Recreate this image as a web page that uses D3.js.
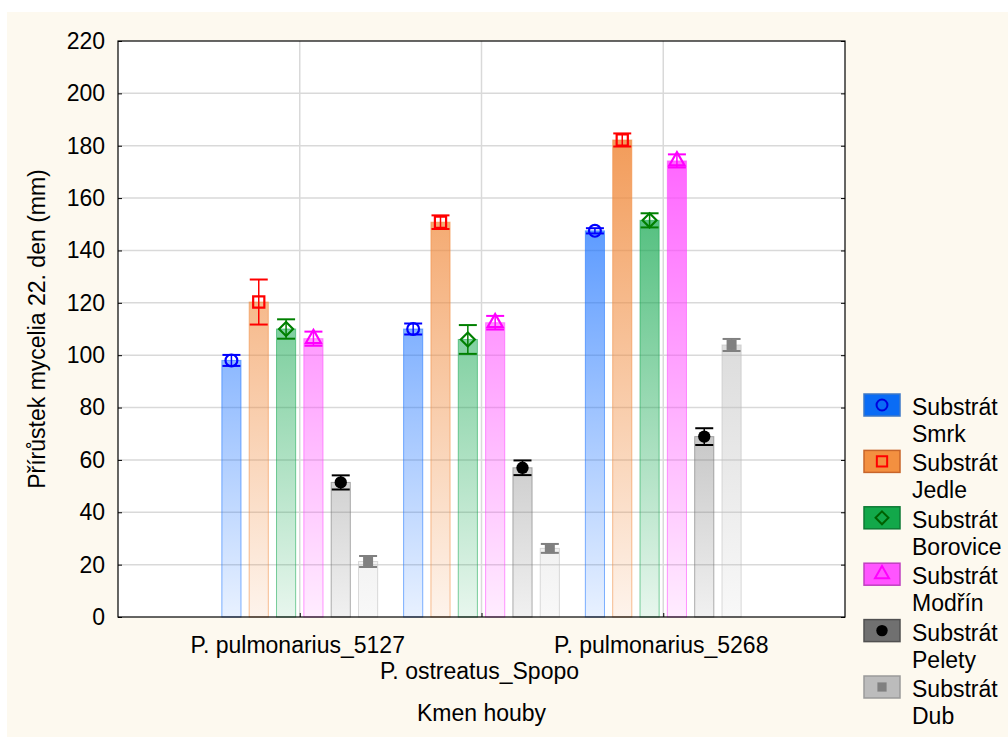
<!DOCTYPE html>
<html>
<head>
<meta charset="utf-8">
<script src="https://cdn.jsdelivr.net/npm/d3@7"></script>
<style>
  body { margin: 0; background: #fff; }
  svg text { font-family: "Liberation Sans", Arial, sans-serif; fill: #000; }
</style>
</head>
<body>
<div class="chart"></div>
<script>
// categories (x axis) and series (substrates)
var categories = ["P. pulmonarius_5127", "P. ostreatus_Spopo", "P. pulmonarius_5268"];
var series = ["Smrk", "Jedle", "Borovice", "Modřín", "Pelety", "Dub"];

// means per series, one value per category
var smrk     = [98, 110, 147.5];
var jedle    = [120.3, 150.8, 182.2];
var borovice = [110, 106, 151.5];
var modrin   = [106.3, 112.4, 174.2];
var pelety   = [51.4, 57, 68.9];
var dub      = [21.2, 26.2, 103.9];

// error bar half widths
var smrkErr     = [2.1, 2.1, 1.0];
var jedleErr    = [8.6, 2.6, 2.5];
var boroviceErr = [3.7, 5.5, 2.7];
var modrinErr   = [2.7, 2.6, 2.5];
var peletyErr   = [2.7, 2.8, 3.2];
var dubErr      = [2.1, 1.7, 2.3];

var yTicks = [0, 20, 40, 60, 80, 100, 120, 140, 160, 180, 200, 220];

var means = [smrk, jedle, borovice, modrin, pelety, dub];
var errs = [smrkErr, jedleErr, boroviceErr, modrinErr, peletyErr, dubErr];

// styles per series
var barColor    = ["#1a72ff", "#f08a3c", "#14a850", "#ff44ff", "#6e6e6e", "#bdbdbd"];
var swatchFill  = ["#0a6cf5", "#f39040", "#12a84a", "#ff55ff", "#707070", "#bcbcbc"];
var swatchLine  = ["#3c78c8", "#c8652a", "#0d7a35", "#c040c0", "#505050", "#9a9a9a"];
var markColor   = ["#0000ff", "#ff0000", "#008000", "#ff00ff", "#000000", "#808080"];

var fontSize = "23px";
var svgWidth = 1008, svgHeight = 737;
var margin = { top: 41, right: 163, bottom: 120, left: 118 };
var chartWidth = svgWidth - margin.left - margin.right;
var chartHeight = svgHeight - margin.top - margin.bottom;

var svg = d3.select(".chart").append("svg")
  .attr("width", svgWidth)
  .attr("height", svgHeight);

// cream background panel
svg.append("rect")
  .attr("x", 7).attr("y", 12)
  .attr("width", svgWidth - 7).attr("height", svgHeight - 12)
  .attr("fill", "#fdf9ef");

var chartGroup = svg.append("g")
  .attr("transform", `translate(${margin.left}, ${margin.top})`);

chartGroup.append("rect")
  .attr("width", chartWidth).attr("height", chartHeight)
  .attr("fill", "#fff");

// scales
var xScale = d3.scaleLinear().domain([0, 4]).range([0, chartWidth]);
var yScale = d3.scaleLinear().domain([0, 220]).range([chartHeight, 0]);
var inner = d3.scaleBand().domain(series).range([-82, 82])
  .paddingInner(0.3).paddingOuter(0.15);

// gradients (saturated at top of the plot, pale at bottom)
var defs = svg.append("defs");
series.forEach(function (s, i) {
  var g = defs.append("linearGradient")
    .attr("id", "grad" + i)
    .attr("gradientUnits", "userSpaceOnUse")
    .attr("x1", 0).attr("x2", 0)
    .attr("y1", yScale(0)).attr("y2", yScale(220));
  g.append("stop").attr("offset", "0%").attr("stop-color", barColor[i]).attr("stop-opacity", 0.1);
  g.append("stop").attr("offset", "100%").attr("stop-color", barColor[i]).attr("stop-opacity", 1);
});

// grid lines
chartGroup.append("g").selectAll("line.h")
  .data(yTicks.slice(1, -1))
  .enter().append("line")
  .attr("x1", 0).attr("x2", chartWidth)
  .attr("y1", d => yScale(d)).attr("y2", d => yScale(d))
  .attr("stroke", "#d9d9d9").attr("stroke-width", 1.5);

chartGroup.append("g").selectAll("line.v")
  .data(categories)
  .enter().append("line")
  .attr("x1", (d, i) => xScale(i + 1)).attr("x2", (d, i) => xScale(i + 1))
  .attr("y1", 0).attr("y2", chartHeight)
  .attr("stroke", "#d9d9d9").attr("stroke-width", 1.5);

// axes with inner ticks
var yAxis = d3.axisLeft(yScale).tickValues(yTicks).tickSize(-4).tickPadding(13);
var yAxisG = chartGroup.append("g").call(yAxis);
yAxisG.select(".domain").remove();
yAxisG.selectAll("text").attr("font-size", fontSize)
  .style("font-family", "'Liberation Sans', Arial, sans-serif");

var yAxisR = d3.axisRight(yScale).tickValues(yTicks).tickSize(-4).tickFormat("");
var yAxisRG = chartGroup.append("g").attr("transform", `translate(${chartWidth},0)`).call(yAxisR);
yAxisRG.select(".domain").remove();

var xAxis = d3.axisBottom(xScale).tickValues([1, 2, 3]).tickSize(-4).tickFormat("");
var xAxisG = chartGroup.append("g").attr("transform", `translate(0, ${chartHeight})`).call(xAxis);
xAxisG.select(".domain").remove();

// x category labels (staggered)
chartGroup.append("g").selectAll("text")
  .data(categories)
  .enter().append("text")
  .attr("x", (d, i) => xScale(i + 1) - 2)
  .attr("y", (d, i) => chartHeight + (i % 2 === 0 ? 36 : 62))
  .attr("text-anchor", "middle")
  .attr("font-size", fontSize)
  .text(d => d);

function markerPath(si, k) {
  if (si === 0) return d3.symbol(d3.symbolCircle, 110 * k)();
  if (si === 1) return d3.symbol(d3.symbolSquare, 125 * k)();
  if (si === 2) { var h = 7 * Math.sqrt(k); return `M0,${-h}L${h},0L0,${h}L${-h},0Z`; }
  if (si === 3) return d3.symbol(d3.symbolTriangle, 100 * k)();
  if (si === 4) return d3.symbol(d3.symbolCircle, 120 * k)();
  return d3.symbol(d3.symbolSquare, 100 * k)();
}

// bars
series.forEach(function (s, si) {
  var grp = chartGroup.append("g");
  var rows = categories.map((c, ci) => ({ ci: ci, v: means[si][ci], e: errs[si][ci] }));

  grp.selectAll("rect")
    .data(rows)
    .enter().append("rect")
    .attr("x", d => xScale(d.ci + 1) + inner(s))
    .attr("y", d => yScale(d.v))
    .attr("width", inner.bandwidth())
    .attr("height", d => chartHeight - yScale(d.v))
    .attr("fill", "url(#grad" + si + ")")
    .attr("stroke", barColor[si])
    .attr("stroke-opacity", 0.55)
    .attr("stroke-width", 1);

  // error bars
  var cx = d => xScale(d.ci + 1) + inner(s) + inner.bandwidth() / 2;
  var capW = 9;
  grp.selectAll("line.err")
    .data(rows)
    .enter().append("line")
    .attr("x1", cx).attr("x2", cx)
    .attr("y1", d => yScale(d.v + d.e)).attr("y2", d => yScale(d.v - d.e))
    .attr("stroke", markColor[si]).attr("stroke-width", 1.5);
  ["hi", "lo"].forEach(function (k) {
    grp.selectAll("line.cap" + k)
      .data(rows)
      .enter().append("line")
      .attr("x1", d => cx(d) - capW).attr("x2", d => cx(d) + capW)
      .attr("y1", d => yScale(k === "hi" ? d.v + d.e : d.v - d.e))
      .attr("y2", d => yScale(k === "hi" ? d.v + d.e : d.v - d.e))
      .attr("stroke", markColor[si]).attr("stroke-width", 2);
  });

  // markers
  grp.selectAll("path.mark")
    .data(rows)
    .enter().append("path")
    .attr("transform", d => `translate(${cx(d)}, ${yScale(d.v)})`)
    .attr("d", markerPath(si, 1))
    .attr("fill", si >= 4 ? markColor[si] : "none")
    .attr("stroke", markColor[si])
    .attr("stroke-width", si >= 4 ? 0 : 2.2);
});

// plot border
chartGroup.append("rect")
  .attr("width", chartWidth).attr("height", chartHeight)
  .attr("fill", "none").attr("stroke", "#000").attr("stroke-width", 1.2);

// axis titles
svg.append("text")
  .attr("transform", `translate(45, ${margin.top + chartHeight / 2}) rotate(-90)`)
  .attr("text-anchor", "middle")
  .attr("font-size", fontSize)
  .text("Přírůstek mycelia 22. den (mm)");

svg.append("text")
  .attr("x", margin.left + chartWidth / 2)
  .attr("y", 721)
  .attr("text-anchor", "middle")
  .attr("font-size", fontSize)
  .text("Kmen houby");

// legend
var legend = svg.append("g").attr("transform", "translate(864, 394)");
var item = legend.selectAll("g")
  .data(series)
  .enter().append("g")
  .attr("transform", (d, i) => `translate(0, ${i * 56.4})`);

item.append("rect")
  .attr("width", 36).attr("height", 22)
  .attr("fill", (d, i) => swatchFill[i])
  .attr("stroke", (d, i) => swatchLine[i])
  .attr("stroke-width", 1.5);

item.append("path")
  .attr("transform", "translate(18, 11)")
  .attr("d", (d, i) => markerPath(i, 0.85))
  .attr("fill", (d, i) => i >= 4 ? (i === 4 ? "#000" : "#808080") : "none")
  .attr("stroke", (d, i) => ["#0000dd", "#ff0000", "#006000", "#ff00ff", "none", "none"][i])
  .attr("stroke-width", 2);

item.append("text")
  .attr("x", 48).attr("y", 21)
  .attr("font-size", fontSize)
  .text("Substrát");

item.append("text")
  .attr("x", 48).attr("y", 48)
  .attr("font-size", fontSize)
  .text(d => d);
</script>
</body>
</html>
